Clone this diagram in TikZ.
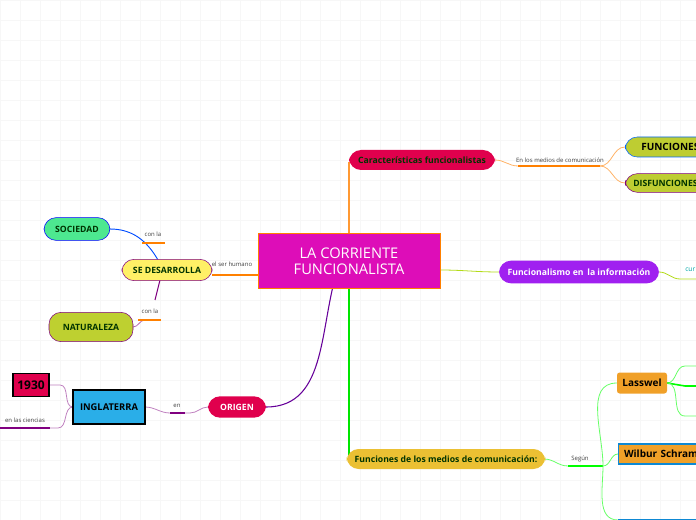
\documentclass[tikz,border=0pt]{standalone}
\usepackage{fontspec}
\setmainfont{Open Sans}
\begin{document}
\begin{tikzpicture}[x=0.75pt,y=-0.75pt,
  pill/.style={rounded corners=9pt,minimum height=#1,inner xsep=6pt,font=\bfseries\fontsize{6.5}{7}\selectfont},
  lbl/.style={font=\fontsize{4.5}{5}\selectfont,text=black!75},
  sq/.style={inner sep=3pt}]
\useasboundingbox (0,0) rectangle (696,520);
\begin{scope}
\clip (0,0) rectangle (696,520);
\foreach \i in {0,20,...,700}{\draw[black!3,line width=0.3pt] (\i,0)--(\i,520);}
\foreach \i in {0,20,...,520}{\draw[black!3,line width=0.3pt] (0,\i)--(696,\i);}
% connectors
\draw[orange!80,line width=1pt] (349,233)--(349,162);
\draw[green!90!black,line width=1.2pt] (349,288)--(349,457);
\coordinate (carR) at (495,160);
\draw[orange!60,line width=0.6pt] (carR) to[out=0,in=180] (518,166) -- (600,166) to[out=0,in=180] (625,147);
\draw[orange!60,line width=0.6pt] (600,166) to[out=0,in=180] (625,183);
\draw[orange,line width=1pt] (518,166)--(600,166);
\draw[yellow!70!green,line width=0.6pt] (440,270) to[out=0,in=180] (499,272);
\draw[yellow!70!green,line width=0.6pt] (659,272) to[out=0,in=180] (680,279)--(696,279);
\draw[green!60,line width=0.6pt] (544,459) to[out=0,in=180] (568,466) -- (603,466);
\draw[green,line width=1.2pt] (568,466)--(603,466);
\draw[green!60,line width=0.6pt] (603,466) to[out=90,in=180] (617,383);
\draw[green!60,line width=0.6pt] (603,466) to[out=0,in=180] (618,454);
\draw[green!60,line width=0.6pt] (603,466) to[out=-90,in=180] (618,520);
\draw[green!60,line width=0.6pt] (667,383) to[out=0,in=180] (685,366)--(696,366);
\draw[green,line width=1.2pt] (667,383)--(685,386)--(696,386);
\draw[green!60,line width=0.6pt] (667,383) to[out=0,in=180] (685,416)--(696,416);
\draw[violet!80!blue,line width=0.8pt] (266,407) to[out=0,in=-110] (340,262);
\draw[violet!50,line width=0.6pt] (208,407) to[out=180,in=0] (190,413) -- (170,413) to[out=180,in=0] (145,407);
\draw[violet,line width=1.2pt] (170,413)--(185,413);
\draw[violet!50,line width=0.6pt] (73,407) to[out=180,in=0] (60,385) -- (49,385);
\draw[violet!50,line width=0.6pt] (73,407) to[out=180,in=0] (58,428) -- (0,428);
\draw[violet,line width=1pt] (0,428)--(50,428);
\draw[orange,line width=1pt] (212,275)--(258,275);
\draw[blue!70!cyan,line width=0.7pt] (110,229) to[out=0,in=120] (158,260);
\draw[orange,line width=0.8pt] (142,243)--(165,243);
\draw[violet,line width=0.8pt] (160,280)--(155,300);
\draw[violet!60,line width=0.6pt] (133,327) to[out=0,in=180] (145,320);
\draw[orange,line width=0.8pt] (138,320)--(161,320);
% nodes
\node[draw=orange,fill={rgb,255:red,221;green,13;blue,184},minimum width=182*0.75pt,minimum height=55*0.75pt,align=center,text=white,font=\fontsize{11}{12}\selectfont] (c) at (349,261) {LA CORRIENTE\\FUNCIONALISTA};
\node[pill=15pt,fill={rgb,255:red,224;green,0;blue,77},minimum width=146*0.75pt,text=black!80!green] (car) at (422,160) {Características funcionalistas};
\node[lbl] (l0) at (560,160) {En los medios de comunicación};
\node[pill=15pt,draw=blue!60!cyan,fill={rgb,255:red,190;green,205;blue,50},anchor=west,minimum width=90pt,text width=80pt,font=\bfseries\fontsize{7.5}{8}\selectfont] (fun) at (625,147) {\hspace{6pt}FUNCIONES};
\node[pill=14pt,draw=violet,fill={rgb,255:red,190;green,205;blue,50},anchor=west,minimum width=90pt,text width=80pt,text=black!80!green] (dis) at (625,183) {DISFUNCIONES};
\node[pill=17pt,fill={rgb,255:red,160;green,32;blue,240},minimum width=160*0.75pt,text=white] (inf) at (579,272) {Funcionalismo en\, la información};
\node[font=\fontsize{5}{6}\selectfont,text=teal!70!cyan,anchor=west,inner sep=0pt] (cur) at (685,270) {cur};
\node[pill=15pt,fill={rgb,255:red,235;green,192;blue,51},minimum width=195*0.75pt,text=black!80!green] (fm) at (446,459) {Funciones de los medios de comunicación:};
\node[lbl] (seg) at (580,459) {Según};
\node[rounded corners=2pt,fill={rgb,255:red,240;green,160;blue,40},minimum width=50*0.75pt,minimum height=21*0.75pt,font=\bfseries\fontsize{7.5}{8}\selectfont] (las) at (642,383) {Lasswel};
\node[draw=cyan!70!blue,line width=1pt,fill={rgb,255:red,240;green,160;blue,40},anchor=west,minimum width=80pt,minimum height=15pt,text width=72pt,font=\bfseries\fontsize{7.5}{8}\selectfont] (wil) at (618,454) {Wilbur Schram};
\node[draw=cyan!70!blue,line width=1pt,fill={rgb,255:red,240;green,160;blue,40},anchor=north west,minimum width=80pt,minimum height=15pt] (bot) at (618,519) {};
\node[pill=17pt,draw=blue,fill={rgb,255:red,77;green,232;blue,144},minimum width=66*0.75pt,text=black!80!green] (soc) at (77,229) {SOCIEDAD};
\node[pill=16pt,draw=violet,fill={rgb,255:red,255;green,240;blue,102},minimum width=90*0.75pt,text=black!80!green] (se) at (167,270) {SE DESARROLLA};
\node[pill=22pt,draw=violet,fill={rgb,255:red,190;green,208;blue,48},minimum width=84*0.75pt,text=black!80!green] (nat) at (91,327) {NATURALEZA};
\node[lbl] (l1) at (153,234) {con la};
\node[lbl] (l2) at (150,311) {con la};
\node[lbl] (l3) at (232,264) {el ser humano};
\node[pill=16pt,fill={rgb,255:red,224;green,0;blue,77},minimum width=58*0.75pt,text=white] (ori) at (237,407) {ORIGEN};
\node[draw=black,line width=1pt,fill={rgb,255:red,42;green,174;blue,232},minimum width=72*0.75pt,minimum height=34*0.75pt,font=\bfseries\fontsize{7}{8}\selectfont] (ing) at (109,407) {INGLATERRA};
\node[draw=black,line width=1pt,fill={rgb,255:red,224;green,0;blue,77},minimum width=36*0.75pt,minimum height=23*0.75pt,font=\bfseries\fontsize{9}{10}\selectfont] (y30) at (31,385) {1930};
\node[lbl] (l4) at (25,420) {en las ciencias};
\node[lbl] (l5) at (177,406) {en};
\end{scope}
\end{tikzpicture}
\end{document}
